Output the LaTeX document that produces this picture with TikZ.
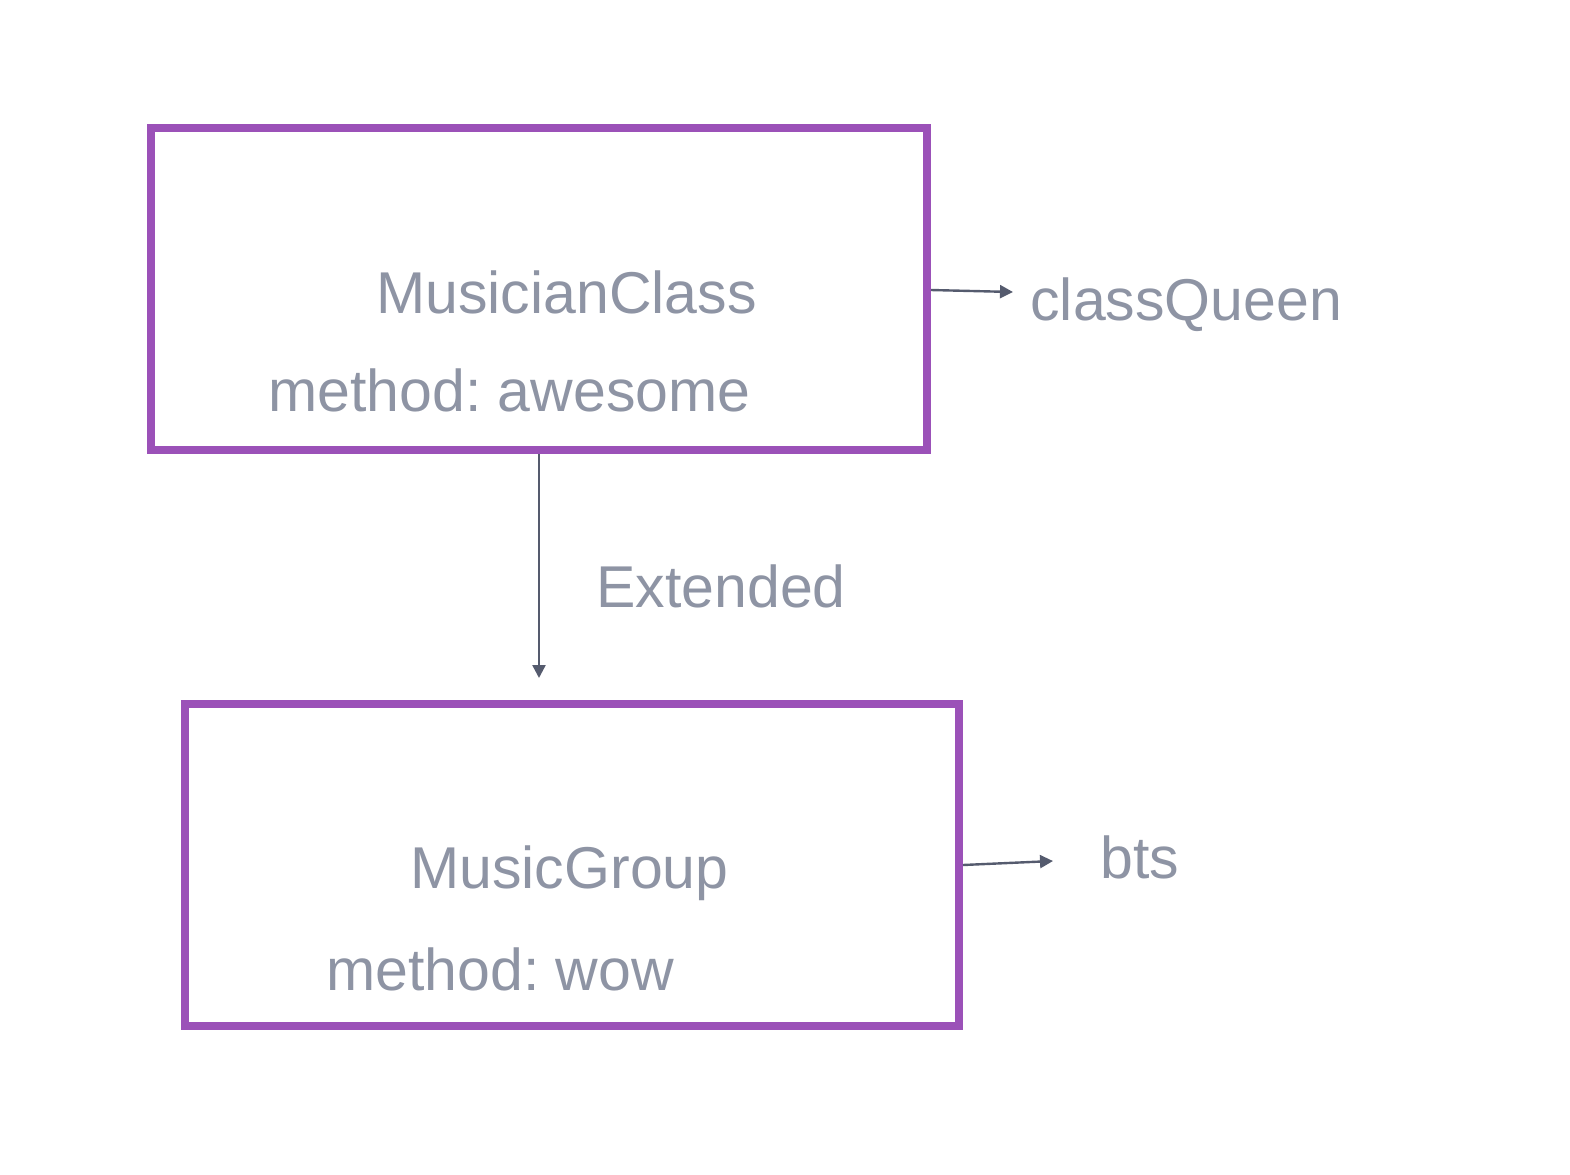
\documentclass[tikz,border=0pt]{standalone}
\usepackage{fontspec}
\setmainfont{Liberation Sans}
\usetikzlibrary{arrows.meta}
\definecolor{boxpurple}{HTML}{9B51B8}
\definecolor{txtgray}{HTML}{8E94A4}
\definecolor{linegray}{HTML}{555B6E}
\frenchspacing
\begin{document}
\begin{tikzpicture}[x=0.5pt,y=-0.5pt,
  classbox/.style={draw=boxpurple,line width=4pt},
  lbl/.style={anchor=base west,inner sep=0pt,text=txtgray,font=\fontsize{29.5}{35}\selectfont},
  conn/.style={draw=linegray,line width=1.2pt,-{Triangle[length=6.5pt,width=6.5pt]}}]
\useasboundingbox (0,0) rectangle (1570,1174);
\node[classbox,minimum width=388pt,minimum height=161pt,inner sep=0pt] (c1) at (539,289) {};
\node[classbox,minimum width=387pt,minimum height=161pt,inner sep=0pt] (c2) at (572,865) {};
\node[lbl] (t1) at (376,313) {MusicianClass};
\node[lbl] (t2) at (268,411) {method: awesome};
\node[lbl] (t3) at (596,607) {Extended};
\node[lbl] (t4) at (410,888) {MusicGroup};
\node[lbl] (t5) at (326,990) {method: wow};
\node[lbl] (q) at (1030,320) {classQueen};
\node[lbl] (b) at (1100,878) {bts};
\coordinate (a1e) at (1013,292);
\coordinate (a2e) at (1053,861);
\coordinate (a3e) at (539,678);
\draw[conn] (c1.east |- 0,290) -- (a1e);
\draw[conn] (c2.east |- 0,865) -- (a2e);
\draw[conn] (c1.south) -- (a3e);
\end{tikzpicture}
\end{document}
